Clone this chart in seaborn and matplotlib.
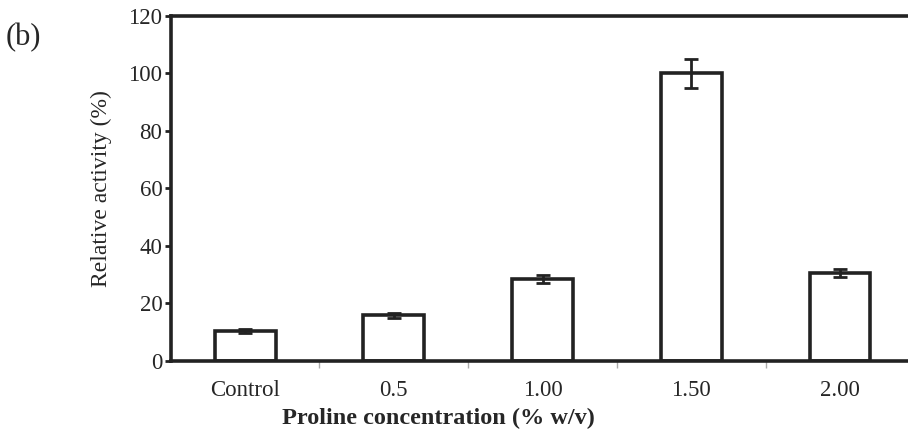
import seaborn as sns
import matplotlib.pyplot as plt
import pandas as pd

# values
categories = ['Control', '0.5', '1.00', '1.50', '2.00']
activity = [10.4, 15.9, 28.5, 100.0, 30.6]
errors = [0.6, 0.9, 1.5, 5.0, 1.5]

df = pd.DataFrame({'conc': categories, 'activity': activity})

sns.set_style('white')
plt.rcParams['font.family'] = ['Liberation Serif', 'DejaVu Serif']

fig = plt.figure(figsize=(9.08, 4.3), dpi=100)
ax = fig.add_axes([0.188, 0.1605, 0.819, 0.8025])

sns.barplot(data=df, x='conc', y='activity', color='white', edgecolor='#222222',
            linewidth=2.6, width=0.41, errorbar=None, ax=ax)
ax.errorbar(range(len(categories)), activity, yerr=errors, fmt='none',
            ecolor='#222222', elinewidth=2, capsize=5, capthick=2)

ax.set_ylim(0, 120)
ax.set_xlim(-0.5, 4.5)
ax.set_yticks(range(0, 121, 20))
ax.tick_params(axis='y', direction='out', length=4, width=2, color='#222222',
               labelsize=16.5, pad=2, left=True)
ax.tick_params(axis='x', length=0, labelsize=16.5, pad=14)
ax.set_xticks([0.5, 1.5, 2.5, 3.5], minor=True)
ax.tick_params(axis='x', which='minor', direction='out', length=5, width=1,
               color='#aaaaaa', bottom=True)

for side in ['left', 'bottom', 'top']:
    ax.spines[side].set_linewidth(2.6)
    ax.spines[side].set_color('#222222')
ax.spines['right'].set_visible(False)

# x label sits left of the axes centre in the original
ax.set_xlabel('Proline concentration (% w/v)', fontsize=17.5, fontweight='bold', labelpad=3)
ax.xaxis.set_label_coords(0.36, -0.135)
ax.set_ylabel('Relative activity (%)', fontsize=17, labelpad=12)
fig.text(0.006, 0.912, '(b)', fontsize=22, ha='left', va='center')

fig.savefig('out.png', dpi=100)
